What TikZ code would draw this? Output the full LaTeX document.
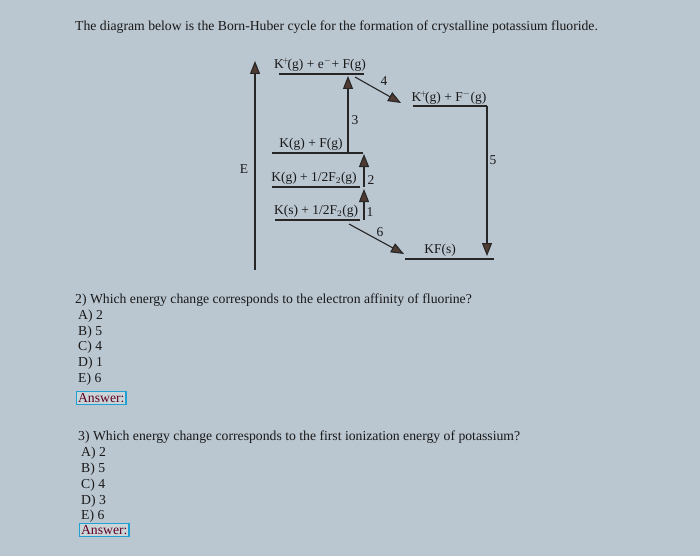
\documentclass[tikz,border=0pt]{standalone}
\usepackage{fontspec}
\setmainfont{Liberation Serif}
\usetikzlibrary{arrows.meta}
\definecolor{bg}{RGB}{186,198,208}
\definecolor{headc}{RGB}{80,60,50}
\begin{document}
\begin{tikzpicture}[x=1pt,y=-1pt,
  lvl/.style={line width=1.3pt,draw=black!85},
  arr/.style={line width=1.1pt,draw=black!85,-{Triangle[length=13pt,width=10pt,fill=headc]}},
  txt/.style={font=\fontsize{13.5}{15}\selectfont,inner sep=0pt,text=black!90},
  q/.style={font=\fontsize{13.7}{15}\selectfont,inner sep=0pt,anchor=west,text=black!90},
  ans/.style={q,draw=cyan!70!teal,line width=1.2pt,fill=cyan!20!gray!40,inner sep=1.5pt,text=purple!50!black}]
\fill[bg] (0,0) rectangle (700,556);
\useasboundingbox (0,0) rectangle (700,556);
\node[q] (title) at (75,27) {The diagram below is the Born-Huber cycle for the formation of crystalline potassium fluoride.};
\coordinate (eb) at (255,270); \coordinate (et) at (255,61);
\draw[arr] (eb) -- (et);
\node[txt] (E) at (244,169) {E};
% levels
\coordinate (a1) at (279,74); \coordinate (a2) at (364,74);
\draw[lvl] (a1) -- (a2);
\node[txt] (la) at (320,65) {K$^{\!+}\!$(g) + e$^{-}$+ F(g)};
\coordinate (b1) at (413,106); \coordinate (b2) at (487,106);
\draw[lvl] (b1) -- (b2);
\node[txt] (lb) at (449,98) {K$^{\!+}\!$(g) + F$^{-}$(g)};
\coordinate (c1) at (272,153); \coordinate (c2) at (363,153);
\draw[lvl] (c1) -- (c2);
\node[txt] (lc) at (311,144) {K(g) + F(g)};
\coordinate (d1) at (272,187); \coordinate (d2) at (360,187);
\draw[lvl] (d1) -- (d2);
\node[txt] (ld) at (314,178) {K(g) + 1/2F$_2$(g)};
\coordinate (f1) at (275,220); \coordinate (f2) at (360,220);
\draw[lvl] (f1) -- (f2);
\node[txt] (lf) at (316,211) {K(s) + 1/2F$_2$(g)};
\coordinate (g1) at (405,259); \coordinate (g2) at (494,259);
\draw[lvl] (g1) -- (g2);
\node[txt] (lg) at (440,250) {KF(s)};
% arrows
\coordinate (s3) at (348,153); \coordinate (t3) at (348,76);
\draw[arr] (s3) -- (t3); \node[txt] (n3) at (355,120) {3};
\coordinate (s4) at (355,77); \coordinate (t4) at (401,103);
\draw[arr] (s4) -- (t4); \node[txt] (n4) at (384,81) {4};
\coordinate (s5) at (487,106); \coordinate (t5) at (487,256);
\draw[arr] (s5) -- (t5); \node[txt] (n5) at (493,160) {5};
\coordinate (s2) at (364,187); \coordinate (t2) at (364,154);
\draw[arr] (s2) -- (t2); \node[txt] (n2) at (371,180) {2};
\coordinate (s1) at (364,220); \coordinate (t1) at (364,189);
\draw[arr] (s1) -- (t1); \node[txt] (n1) at (370,212) {1};
\coordinate (s6) at (349,224); \coordinate (t6) at (404,254);
\draw[arr] (s6) -- (t6); \node[txt] (n6) at (380,232) {6};
% questions
\node[q] (q2) at (75,300) {2) Which energy change corresponds to the electron affinity of fluorine?};
\node[q] (q2a) at (78,316) {A) 2};
\node[q] (q2b) at (78,332) {B) 5};
\node[q] (q2c) at (78,347) {C) 4};
\node[q] (q2d) at (78,363) {D) 1};
\node[q] (q2e) at (78,379) {E) 6};
\node[ans] (q2ans) at (76,398) {Answer:};
\node[q] (q3) at (78,437) {3) Which energy change corresponds to the first ionization energy of potassium?};
\node[q] (q3a) at (81,453) {A) 2};
\node[q] (q3b) at (81,469) {B) 5};
\node[q] (q3c) at (81,485) {C) 4};
\node[q] (q3d) at (81,501) {D) 3};
\node[q] (q3e) at (81,516) {E) 6};
\node[ans] (q3ans) at (79,530) {Answer:};
\end{tikzpicture}
\end{document}
